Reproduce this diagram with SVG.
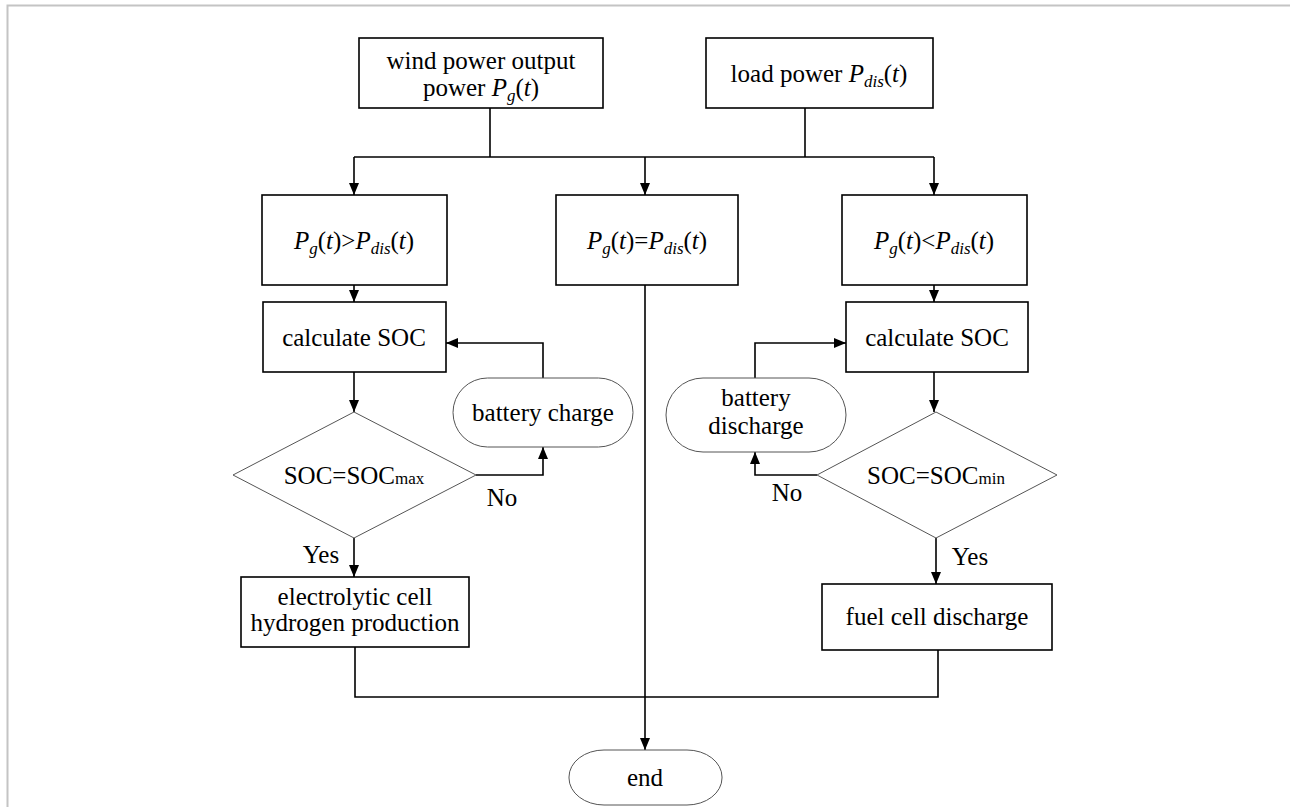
<svg xmlns="http://www.w3.org/2000/svg" width="1290" height="807" viewBox="0 0 1290 807">
<defs>
<marker id="ah" markerUnits="userSpaceOnUse" markerWidth="12" markerHeight="12" refX="12" refY="6" orient="auto">
<path d="M0,1 L12,6 L0,11 z" fill="#000"/>
</marker>
<style>
.box{fill:#fff;stroke:#000;stroke-width:1.6}
.soft{fill:#fff;stroke:#555;stroke-width:1}
text{font-family:'Liberation Serif','DejaVu Serif',serif;font-size:25px;fill:#000;text-anchor:middle}
.i{font-style:italic}
.sub{font-size:17px}
.c{fill:none;stroke:#000;stroke-width:1.6}
.ca{fill:none;stroke:#000;stroke-width:1.6;marker-end:url(#ah)}
</style>
</defs>
<rect width="1290" height="807" fill="#fff"/>
<path d="M7.5,807 V5.5 H1290" fill="none" stroke="#c4c4c4" stroke-width="2"/>

<g id="connectors">
<path class="c" d="M490,108 V157"/>
<path class="c" d="M805,108 V157"/>
<path class="c" d="M354,157 H934"/>
<path class="ca" d="M354,157 V195"/>
<path class="ca" d="M645,157 V195"/>
<path class="ca" d="M934,157 V195"/>
<path class="ca" d="M354,285 V302"/>
<path class="ca" d="M354,372 V412"/>
<path class="ca" d="M476,475 H543 V447"/>
<path class="ca" d="M543,378 V343 H446"/>
<path class="ca" d="M354,538 V577"/>
<path class="c" d="M355,647 V697 H938 V650"/>
<path class="ca" d="M645,285 V750"/>
<path class="ca" d="M934,285 V302"/>
<path class="ca" d="M934,372 V412"/>
<path class="ca" d="M817,475 H755 V452"/>
<path class="ca" d="M755,378 V343 H846"/>
<path class="ca" d="M936,538 V584"/>
</g>

<g id="wind">
<rect class="box" x="359" y="38" width="244" height="70"/>
<text font-family="Liberation Serif, serif" x="481" y="69">wind power output</text>
<text font-family="Liberation Serif, serif" x="481" y="96">power <tspan class="i">P</tspan><tspan class="i sub" dy="5">g</tspan><tspan dy="-5">(</tspan><tspan class="i">t</tspan>)</text>
</g>

<g id="load">
<rect class="box" x="706" y="38" width="227" height="70"/>
<text font-family="Liberation Serif, serif" x="819" y="82">load power <tspan class="i">P</tspan><tspan class="i sub" dy="5">dis</tspan><tspan dy="-5">(</tspan><tspan class="i">t</tspan>)</text>
</g>

<g id="greater">
<rect class="box" x="262" y="195" width="185" height="90"/>
<text font-family="Liberation Serif, serif" x="354" y="249"><tspan class="i">P</tspan><tspan class="i sub" dy="5">g</tspan><tspan dy="-5">(</tspan><tspan class="i">t</tspan>)&gt;<tspan class="i">P</tspan><tspan class="i sub" dy="5">dis</tspan><tspan dy="-5">(</tspan><tspan class="i">t</tspan>)</text>
</g>

<g id="equal">
<rect class="box" x="556" y="195" width="182" height="90"/>
<text font-family="Liberation Serif, serif" x="647" y="249"><tspan class="i">P</tspan><tspan class="i sub" dy="5">g</tspan><tspan dy="-5">(</tspan><tspan class="i">t</tspan>)=<tspan class="i">P</tspan><tspan class="i sub" dy="5">dis</tspan><tspan dy="-5">(</tspan><tspan class="i">t</tspan>)</text>
</g>

<g id="less">
<rect class="box" x="842" y="195" width="185" height="90"/>
<text font-family="Liberation Serif, serif" x="934" y="249"><tspan class="i">P</tspan><tspan class="i sub" dy="5">g</tspan><tspan dy="-5">(</tspan><tspan class="i">t</tspan>)&lt;<tspan class="i">P</tspan><tspan class="i sub" dy="5">dis</tspan><tspan dy="-5">(</tspan><tspan class="i">t</tspan>)</text>
</g>

<g id="calcL">
<rect class="box" x="263" y="302" width="183" height="70"/>
<text font-family="Liberation Serif, serif" x="354" y="346">calculate SOC</text>
</g>

<g id="chargeBat">
<rect class="soft" x="453" y="378" width="180" height="69" rx="34.5"/>
<text font-family="Liberation Serif, serif" x="543" y="421">battery charge</text>
</g>

<g id="decMax">
<polygon class="soft" points="354,412 476,475 354,538 233,475"/>
<text font-family="Liberation Serif, serif" x="354" y="484">SOC=SOC<tspan class="sub">max</tspan></text>
</g>

<g id="noL"><text font-family="Liberation Serif, serif" x="502" y="506">No</text></g>
<g id="yesL"><text font-family="Liberation Serif, serif" x="321" y="563">Yes</text></g>

<g id="electro">
<rect class="box" x="241" y="577" width="228" height="70"/>
<text font-family="Liberation Serif, serif" x="355" y="605">electrolytic cell</text>
<text font-family="Liberation Serif, serif" x="355" y="631">hydrogen production</text>
</g>

<g id="calcR">
<rect class="box" x="846" y="302" width="182" height="70"/>
<text font-family="Liberation Serif, serif" x="937" y="346">calculate SOC</text>
</g>

<g id="dischargeBat">
<rect class="soft" x="666" y="378" width="180" height="74" rx="37"/>
<text font-family="Liberation Serif, serif" x="756" y="406">battery</text>
<text font-family="Liberation Serif, serif" x="756" y="434">discharge</text>
</g>

<g id="decMin">
<polygon class="soft" points="936,412 1057,475 936,538 817,475"/>
<text font-family="Liberation Serif, serif" x="936" y="484">SOC=SOC<tspan class="sub">min</tspan></text>
</g>

<g id="noR"><text font-family="Liberation Serif, serif" x="787" y="501">No</text></g>
<g id="yesR"><text font-family="Liberation Serif, serif" x="970" y="565">Yes</text></g>

<g id="fuel">
<rect class="box" x="822" y="584" width="230" height="66"/>
<text font-family="Liberation Serif, serif" x="937" y="625">fuel cell discharge</text>
</g>

<g id="end">
<rect class="soft" x="569" y="750" width="153" height="55" rx="35" ry="27"/>
<text font-family="Liberation Serif, serif" x="645" y="786">end</text>
</g>
</svg>
